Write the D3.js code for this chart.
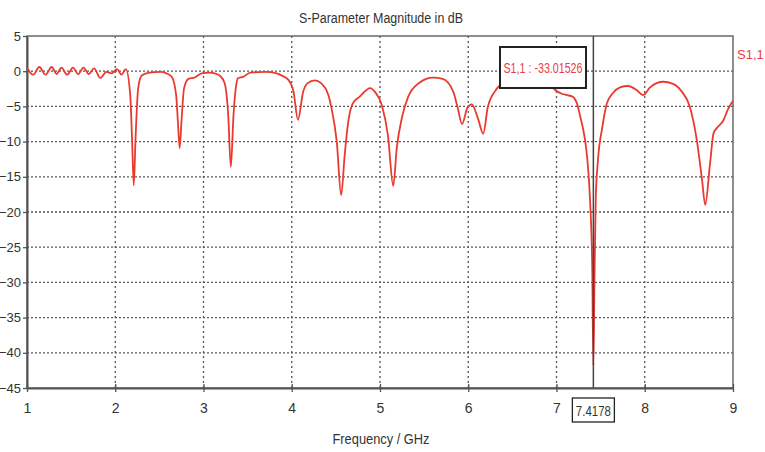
<!DOCTYPE html>
<html>
<head>
<meta charset="utf-8">
<script src="https://cdn.jsdelivr.net/npm/d3@7"></script>
<style>
  html, body { margin: 0; padding: 0; background: #fff; }
  svg { display: block; }
  text { font-family: "Liberation Sans", Arial, sans-serif; }
</style>
</head>
<body>
<svg id="chart" width="765" height="452"></svg>
<script>
// ---- Data ----
const title = "S-Parameter Magnitude in dB";
const xLabel = "Frequency / GHz";
const seriesName = "S1,1";
const xTicks = [1, 2, 3, 4, 5, 6, 7, 8, 9];
const yTicks = [5, 0, -5, -10, -15, -20, -25, -30, -35, -40, -45];
const markerFreq = 7.4178;
const markerValue = -33.01526;

const freqGHz = [
  1.00, 1.07, 1.14, 1.21, 1.28, 1.335, 1.39, 1.455, 1.52, 1.58, 1.64, 1.70, 1.76, 1.83, 1.90, 1.96, 2.02, 2.07, 2.12,
  2.17, 2.19, 2.21, 2.23, 2.26, 2.30, 2.39, 2.51, 2.58, 2.64, 2.69, 2.71, 2.73, 2.75, 2.78, 2.83, 2.90, 2.98, 3.07, 3.17,
  3.19, 3.24, 3.28, 3.31, 3.34, 3.37, 3.39, 3.45, 3.53, 3.70, 3.83, 3.90, 3.96, 4.02, 4.07, 4.13, 4.18, 4.26, 4.38,
  4.45, 4.51, 4.56, 4.60, 4.64, 4.69, 4.77, 4.89, 4.94, 5.02, 5.09, 5.15, 5.19, 5.25, 5.32, 5.45, 5.60, 5.71, 5.83,
  5.88, 5.93, 5.99, 6.04, 6.11, 6.17, 6.22, 6.30, 6.36, 6.50, 6.65, 6.80, 6.92, 7.01, 7.06, 7.12, 7.18, 7.23, 7.27,
  7.32, 7.35, 7.38, 7.405, 7.4178, 7.43, 7.445, 7.47, 7.52, 7.57, 7.64, 7.72, 7.81, 7.91, 7.98, 8.06, 8.21, 8.32, 8.42,
  8.51, 8.59, 8.65, 8.685, 8.74, 8.78, 8.83, 8.89, 8.94, 9.00
];
const s11dB = [
  0.5, -0.5, 0.6, -0.5, 0.6, -0.4, 0.5, -0.5, 0.5, -0.4, 0.5, -0.4, 0.4, -0.95, -0.1, -0.3, 0.3, -0.5, 0.3,
  -3.4, -9.5, -16.2, -9.5, -2.4, -0.6, -0.2, -0.1, -0.3, -0.8, -3.4, -7.2, -10.9, -7.2, -2.4, -1.1, -0.9, -0.3, -0.2, -0.5,
  -0.7, -1.7, -6.2, -13.6, -6.2, -2.0, -1.0, -0.8, -0.2, -0.1, -0.3, -0.7, -1.2, -2.9, -6.9, -2.9, -1.7, -1.3, -2.4,
  -5.2, -10.0, -17.6, -11.9, -7.2, -4.6, -3.6, -2.4, -2.9, -4.8, -9.1, -16.3, -10.9, -6.5, -3.6, -1.6, -0.9, -1.1, -2.9,
  -5.2, -7.5, -5.2, -4.7, -6.7, -8.9, -5.2, -2.9, -2.0, -1.2, -0.9, -1.3, -1.9, -2.9, -3.2, -3.4, -3.6, -4.5, -6.5,
  -9.5, -12.6, -18.3, -28.0, -41.8, -30.0, -18.0, -12.6, -7.9, -4.6, -3.1, -2.3, -2.1, -2.7, -3.4, -2.3, -1.5, -1.8, -2.9,
  -5.0, -9.8, -15.5, -19.0, -13.1, -8.8, -7.9, -7.0, -5.5, -4.2
];

// ---- Layout ----
const svg = d3.select("#chart");
const plot = { left: 27, right: 733, top: 36, bottom: 388 };

const x = d3.scaleLinear().domain([1, 9]).range([plot.left, plot.right]);
const y = d3.scaleLinear().domain([-45, 5]).range([plot.bottom, plot.top]);

const gridColor = "#555";
const axisColor = "#555";
const textColor = "#333";
const red = "#ea3a30";
const labelRed = "#e8404a";

// grid lines (dotted)
const grid = svg.append("g");
grid.selectAll("line.gx").data(xTicks.slice(1, -1)).enter().append("line")
  .attr("x1", d => x(d)).attr("x2", d => x(d))
  .attr("y1", plot.top).attr("y2", plot.bottom)
  .attr("stroke", gridColor).attr("stroke-width", 1.3).attr("stroke-dasharray", "2,3");
grid.selectAll("line.gy").data(yTicks.slice(1, -1)).enter().append("line")
  .attr("x1", plot.left).attr("x2", plot.right)
  .attr("y1", d => y(d)).attr("y2", d => y(d))
  .attr("stroke", gridColor).attr("stroke-width", 1.3).attr("stroke-dasharray", "2,2");

// frame
svg.append("rect")
  .attr("x", plot.left).attr("y", plot.top)
  .attr("width", plot.right - plot.left).attr("height", plot.bottom - plot.top)
  .attr("fill", "none").attr("stroke", "#6a6a6a").attr("stroke-width", 1.5);

// axes
const xAxis = d3.axisBottom(x).tickValues(xTicks).tickSize(4).tickSizeOuter(0).tickPadding(8).tickFormat(d3.format("d"));
const gx = svg.append("g").attr("transform", `translate(0,${plot.bottom})`).call(xAxis);
gx.select(".domain").attr("stroke", axisColor).attr("stroke-width", 2);
gx.selectAll(".tick line").attr("stroke", axisColor).attr("stroke-width", 1.3).attr("y1", -4).attr("y2", 4);
gx.selectAll(".tick text").attr("fill", textColor).attr("font-size", 14).attr("dy", "0.95em")
  .attr("font-family", "Liberation Sans, Arial, sans-serif");

const yAxis = d3.axisLeft(y).tickValues(yTicks).tickSize(4).tickSizeOuter(0).tickPadding(2).tickFormat(d3.format("d"));
const gy = svg.append("g").attr("transform", `translate(${plot.left},0)`).call(yAxis);
gy.select(".domain").attr("stroke", axisColor).attr("stroke-width", 2);
gy.selectAll(".tick line").attr("stroke", axisColor).attr("stroke-width", 1.3);
gy.selectAll(".tick text").attr("fill", textColor).attr("font-size", 13)
  .attr("font-family", "Liberation Sans, Arial, sans-serif");

// data line
const pts = freqGHz.map((f, i) => [f, s11dB[i]]);
const line = d3.line().x(d => x(d[0])).y(d => y(d[1])).curve(d3.curveMonotoneX);
svg.append("path").datum(pts)
  .attr("d", line).attr("fill", "none")
  .attr("stroke", red).attr("stroke-width", 1.8).attr("stroke-linejoin", "round");

// marker line
svg.append("line")
  .attr("x1", x(markerFreq)).attr("x2", x(markerFreq))
  .attr("y1", plot.top).attr("y2", plot.bottom)
  .attr("stroke", "#444").attr("stroke-width", 1.5);

// marker value box
const boxW = 86, boxH = 41;
const boxCx = 543, boxTop = 47;
svg.append("rect")
  .attr("x", boxCx - boxW / 2).attr("y", boxTop)
  .attr("width", boxW).attr("height", boxH)
  .attr("fill", "#fff").attr("stroke", "#222").attr("stroke-width", 2);
svg.append("text")
  .attr("x", boxCx).attr("y", boxTop + boxH / 2 + 5)
  .attr("text-anchor", "middle").attr("font-size", 14.5).attr("fill", labelRed)
  .attr("textLength", 79).attr("lengthAdjust", "spacingAndGlyphs")
  .text(`${seriesName} : ${markerValue.toFixed(5)}`);

// marker frequency box at x-axis
const fx = x(markerFreq);
svg.append("rect")
  .attr("x", fx - 21).attr("y", 398).attr("width", 42).attr("height", 24)
  .attr("fill", "#fff").attr("stroke", "#222").attr("stroke-width", 1.3);
svg.append("text")
  .attr("x", fx).attr("y", 416).attr("text-anchor", "middle")
  .attr("font-size", 14).attr("fill", textColor)
  .attr("textLength", 35).attr("lengthAdjust", "spacingAndGlyphs")
  .text(markerFreq.toFixed(4));

// title
svg.append("text")
  .attr("x", 381).attr("y", 23).attr("text-anchor", "middle")
  .attr("font-size", 15.5).attr("fill", textColor)
  .attr("textLength", 164).attr("lengthAdjust", "spacingAndGlyphs")
  .text(title);

// x label
svg.append("text")
  .attr("x", 381).attr("y", 444).attr("text-anchor", "middle")
  .attr("font-size", 15.5).attr("fill", textColor)
  .attr("textLength", 97).attr("lengthAdjust", "spacingAndGlyphs")
  .text(xLabel);

// legend
svg.append("text")
  .attr("x", 737).attr("y", 59).attr("font-size", 13).attr("fill", labelRed)
  .text(seriesName);
</script>
</body>
</html>
